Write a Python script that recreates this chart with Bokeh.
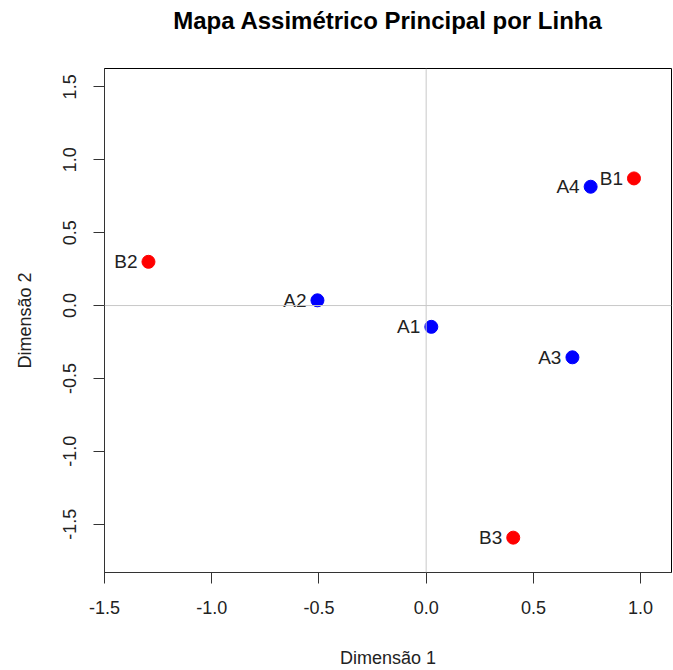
from bokeh.plotting import figure
from bokeh.models import FixedTicker, Span, ColumnDataSource, Range1d, LinearAxis
from bokeh.core.properties import value
from bokeh.embed import file_html
from bokeh.resources import INLINE

# ---- data ----
labels = ["A1", "A2", "A3", "A4", "B1", "B2", "B3"]
dim1 = [0.024, -0.507, 0.682, 0.767, 0.969, -1.295, 0.406]
dim2 = [-0.146, 0.036, -0.355, 0.815, 0.872, 0.300, -1.592]
groups = ["row", "row", "row", "row", "col", "col", "col"]
x_ticks = [-1.5, -1.0, -0.5, 0.0, 0.5, 1.0]
x_tick_labels = ["-1.5", "-1.0", "-0.5", "0.0", "0.5", "1.0"]
y_ticks = [-1.5, -1.0, -0.5, 0.0, 0.5, 1.0, 1.5]
y_tick_labels = ["-1.5", "-1.0", "-0.5", "0.0", "0.5", "1.0", "1.5"]
title_text = "Mapa Assimétrico Principal por Linha"

color_map = {"row": "#0000FF", "col": "#FF0000"}
src = ColumnDataSource(dict(x=dim1, y=dim2, label=labels,
                            color=[color_map[g] for g in groups]))

FONT = "Liberation Sans"

p = figure(width=673, height=670, output_backend="svg", toolbar_location=None,
           x_range=Range1d(-1.5, 1.144), y_range=Range1d(-1.831, 1.626),
           min_border_left=104, min_border_right=2, min_border_top=68,
           min_border_bottom=97)

xax = p.below[0]
yax = p.left[0]

# title drawn as the label of a bare axis above the frame (precise placement)
top_axis = LinearAxis(ticker=FixedTicker(ticks=[]), axis_label=title_text,
                      axis_line_color=None, major_tick_out=0, major_tick_in=0,
                      minor_tick_line_color=None, major_label_standoff=0,
                      axis_label_standoff=35, axis_label_text_font=FONT,
                      axis_label_text_font_size="24px",
                      axis_label_text_font_style="bold",
                      axis_label_text_color="black")
p.add_layout(top_axis, "above")

p.xgrid.visible = False
p.ygrid.visible = False
p.outline_line_color = "black"
p.outline_line_width = 1
p.background_fill_color = "white"
p.border_fill_color = "white"

for ax, ticks, tl in ((xax, x_ticks, x_tick_labels), (yax, y_ticks, y_tick_labels)):
    ax.ticker = FixedTicker(ticks=ticks)
    ax.major_label_overrides = {t: s for t, s in zip(ticks, tl)}
    ax.minor_tick_line_color = None
    ax.major_tick_in = 0
    ax.major_tick_out = 11
    ax.major_tick_line_color = "#333333"
    ax.axis_line_color = "#333333"
    ax.major_label_text_font = FONT
    ax.major_label_text_font_size = "18px"
    ax.major_label_text_color = "#222222"
    ax.axis_label_text_font = FONT
    ax.axis_label_text_font_size = "18px"
    ax.axis_label_text_font_style = "normal"
    ax.axis_label_text_color = "#222222"

xax.axis_label = "Dimensão 1"
yax.axis_label = "Dimensão 2"
xax.major_label_standoff = 17
yax.major_label_standoff = 17
yax.major_label_orientation = "vertical"
xax.axis_label_standoff = 31
yax.axis_label_standoff = 26

p.add_layout(Span(location=0, dimension="height", line_color="#c8c8c8", line_width=1))
p.add_layout(Span(location=0, dimension="width", line_color="#c8c8c8", line_width=1))

p.scatter("x", "y", source=src, size=13, fill_color="color", line_color="color")
p.text("x", "y", text="label", source=src, x_offset=-11, text_align="right",
       text_baseline="middle", text_font=value(FONT), text_font_size="19px",
       text_color="#222222")

open("out.html", "w").write(file_html(p, INLINE))
